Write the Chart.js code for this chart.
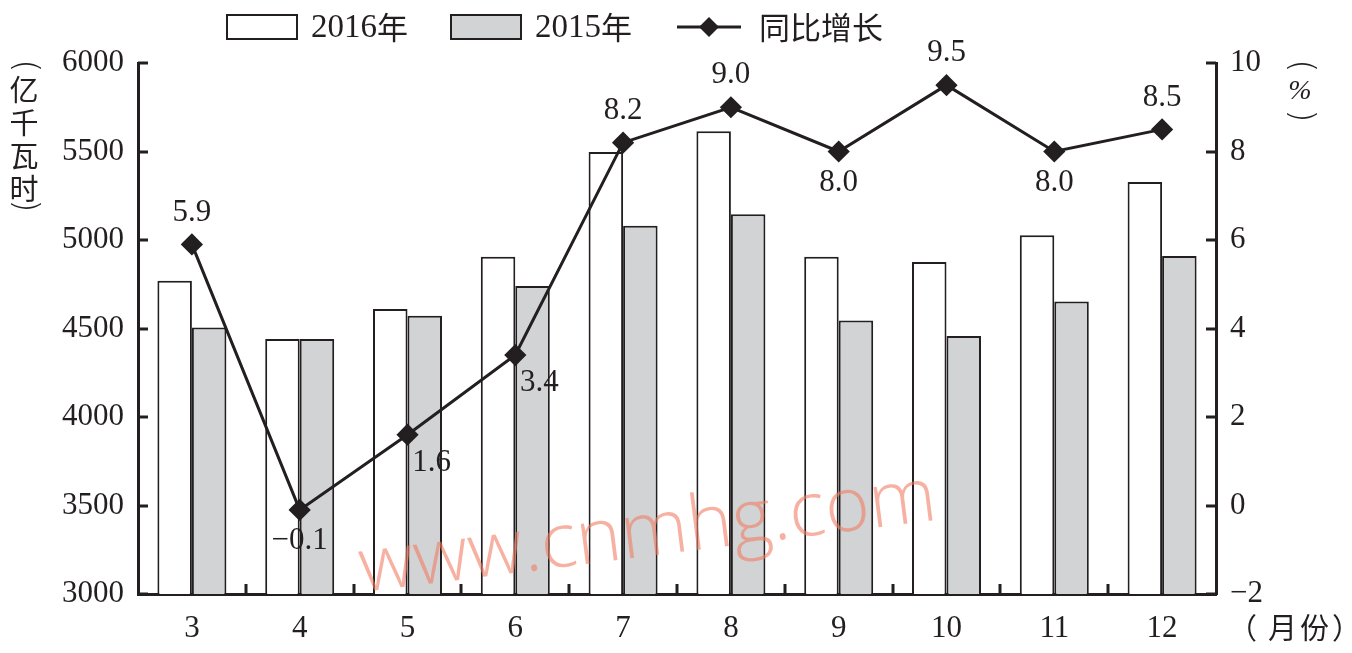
<!DOCTYPE html>
<html>
<head>
<meta charset="utf-8">
<script src="https://cdn.jsdelivr.net/npm/chart.js@4.4.1/dist/chart.umd.min.js"></script>
<style>
  html, body { margin: 0; padding: 0; background: #fff; }
  #wrap { width: 1352px; height: 653px; }
</style>
</head>
<body>
<div id="wrap"><canvas id="chart" width="1352" height="653"></canvas></div>
<script>
const months = ['3', '4', '5', '6', '7', '8', '9', '10', '11', '12']
const power2016 = [4770, 4440, 4610, 4905, 5497, 5615, 4905, 4876, 5027, 5328]
const power2015 = [4505, 4440, 4572, 4740, 5080, 5145, 4545, 4458, 4652, 4910]
const growth = [5.9, -0.1, 1.6, 3.4, 8.2, 9.0, 8.0, 9.5, 8.0, 8.5]
const growthLabels = ['5.9', '−0.1', '1.6', '3.4', '8.2', '9.0', '8.0', '9.5', '8.0', '8.5']
const labelPlace = ['above', 'below', 'belowRight', 'belowRight', 'above', 'above', 'below', 'above', 'below', 'above']

const INK = '#231f20'
const GRAY = '#d1d3d4'
const SERIF = '"Liberation Serif", "Times New Roman", serif'
const NUM_SIZE = 31
const CJK = '"Noto Sans CJK SC", sans-serif'

const formatPercentTick = (v) => (v < 0 ? '−' + Math.abs(v) : String(v))

// ticks point inward, drawn by hand
const inwardTicks = {
  id: 'inwardTicks',
  afterDraw(chart) {
    const { ctx, chartArea: a, scales } = chart
    const len = 10
    ctx.save()
    ctx.strokeStyle = INK
    ctx.lineWidth = 3
    ctx.beginPath()
    for (const t of scales.y.ticks) {
      const py = Math.round(scales.y.getPixelForValue(t.value))
      ctx.moveTo(a.left, py)
      ctx.lineTo(a.left + len, py)
    }
    for (const t of scales.y1.ticks) {
      const py = Math.round(scales.y1.getPixelForValue(t.value))
      ctx.moveTo(a.right, py)
      ctx.lineTo(a.right - len, py)
    }
    for (let i = 1; i < months.length; i++) {
      const px = Math.round((scales.x.getPixelForValue(i - 1) + scales.x.getPixelForValue(i)) / 2)
      ctx.moveTo(px, a.bottom)
      ctx.lineTo(px, a.bottom - len)
    }
    ctx.stroke()
    ctx.restore()
  },
}

const growthValueLabels = {
  id: 'growthValueLabels',
  afterDatasetsDraw(chart) {
    const { ctx } = chart
    const meta = chart.getDatasetMeta(2)
    ctx.save()
    ctx.font = `${NUM_SIZE}px ${SERIF}`
    ctx.fillStyle = INK
    ctx.textAlign = 'center'
    ctx.textBaseline = 'middle'
    meta.data.forEach((pt, i) => {
      let dx = 0
      let dy = -32
      if (labelPlace[i] === 'below') dy = 31
      if (labelPlace[i] === 'belowRight') { dx = 24; dy = 28 }
      ctx.fillText(growthLabels[i], pt.x + dx, pt.y + dy)
    })
    ctx.restore()
  },
}

// vertical paren: a latin paren turned a quarter
function drawTurned(ctx, ch, x, y) {
  ctx.save()
  ctx.translate(x, y)
  ctx.rotate(Math.PI / 2)
  ctx.font = `300 34px "DejaVu Sans", sans-serif`
  ctx.textAlign = 'center'
  ctx.textBaseline = 'middle'
  ctx.fillText(ch, 0, 0)
  ctx.restore()
}

const extras = {
  id: 'extras',
  afterDraw(chart) {
    const { ctx } = chart
    ctx.save()
    ctx.fillStyle = INK

    // legend
    let x = 227
    const y = 27
    const items = chart.data.datasets.map((d) => d.label)
    items.forEach((label, i) => {
      if (i < 2) {
        ctx.fillStyle = i === 0 ? '#fff' : GRAY
        ctx.fillRect(x, y - 12, 70, 24)
        ctx.strokeStyle = INK
        ctx.lineWidth = 2
        ctx.strokeRect(x, y - 12, 70, 24)
      } else {
        ctx.strokeStyle = INK
        ctx.lineWidth = 3
        ctx.beginPath()
        ctx.moveTo(x + 2, y)
        ctx.lineTo(x + 66, y)
        ctx.stroke()
        ctx.fillStyle = INK
        ctx.beginPath()
        ctx.moveTo(x + 34, y - 10)
        ctx.lineTo(x + 44, y)
        ctx.lineTo(x + 34, y + 10)
        ctx.lineTo(x + 24, y)
        ctx.closePath()
        ctx.fill()
      }
      x += 84
      ctx.fillStyle = INK
      ctx.textBaseline = 'middle'
      ctx.textAlign = 'left'
      const parts = label.match(/^([0-9]*)(.*)$/)
      ctx.font = `33px ${SERIF}`
      ctx.fillText(parts[1], x, y + 1)
      const w1 = ctx.measureText(parts[1]).width
      ctx.font = `31px ${CJK}`
      ctx.fillText(parts[2], x + w1, y)
      x += w1 + ctx.measureText(parts[2]).width + 43
    })

    // vertical axis titles
    ctx.font = `29px ${CJK}`
    ctx.textAlign = 'center'
    ctx.textBaseline = 'middle'
    drawTurned(ctx, '(', 24, 66)
    ;['亿', '千', '瓦', '时'].forEach((c, i) => ctx.fillText(c, 24, 90 + i * 33))
    drawTurned(ctx, ')', 24, 206)
    drawTurned(ctx, '(', 1300, 66)
    ctx.font = `italic 28px ${SERIF}`
    ctx.fillText('%', 1300, 92)
    drawTurned(ctx, ')', 1300, 116)

    // x unit
    ctx.font = `29px ${CJK}`
    ctx.textAlign = 'left'
    ctx.fillText('（', 1228, 628)
    ctx.fillText('月', 1268, 628)
    ctx.fillText('份', 1300, 628)
    ctx.fillText('）', 1332, 628)

    // watermark
    ctx.translate(362, 592)
    ctx.rotate(-0.125)
    ctx.font = `300 76px "Open Sans", sans-serif`
    ctx.fillStyle = 'rgba(240, 125, 100, 0.6)'
    ctx.textAlign = 'left'
    ctx.textBaseline = 'alphabetic'
    ctx.fillText('www.cnmhg.com', 0, 0)
    ctx.restore()
  },
}

const tickFont = { family: SERIF, size: NUM_SIZE }

new Chart(document.getElementById('chart'), {
  data: {
    labels: months,
    datasets: [
      {
        type: 'bar',
        label: '2016年',
        data: power2016,
        backgroundColor: '#fff',
        borderColor: INK,
        borderWidth: 2,
        yAxisID: 'y',
        order: 1,
      },
      {
        type: 'bar',
        label: '2015年',
        data: power2015,
        backgroundColor: GRAY,
        borderColor: INK,
        borderWidth: 2,
        yAxisID: 'y',
        order: 1,
      },
      {
        type: 'line',
        label: '同比增长',
        data: growth,
        borderColor: INK,
        borderWidth: 3,
        pointStyle: 'rectRot',
        pointRadius: 9,
        pointBackgroundColor: INK,
        pointBorderColor: INK,
        tension: 0,
        yAxisID: 'y1',
        order: 0,
      },
    ],
  },
  options: {
    responsive: false,
    animation: false,
    datasets: { bar: { categoryPercentage: 0.64, barPercentage: 1 } },
    layout: { padding: { top: 63, left: 0, right: 0, bottom: 0 } },
    plugins: { legend: { display: false }, tooltip: { enabled: false } },
    scales: {
      x: {
        grid: { drawOnChartArea: false, drawTicks: false },
        border: { color: INK, width: 3 },
        ticks: { color: INK, font: tickFont, padding: 16 },
        afterFit: (s) => { s.height = 59 },
      },
      y: {
        position: 'left',
        min: 3000,
        max: 6000,
        grid: { drawOnChartArea: false, drawTicks: false },
        border: { color: INK, width: 3 },
        ticks: { stepSize: 500, color: INK, font: tickFont, padding: 14, callback: (v) => String(v) },
        afterFit: (s) => { s.width = 138 },
      },
      y1: {
        position: 'right',
        min: -2,
        max: 10,
        grid: { drawOnChartArea: false, drawTicks: false },
        border: { color: INK, width: 3 },
        ticks: { stepSize: 2, color: INK, font: tickFont, padding: 14, callback: formatPercentTick },
        afterFit: (s) => { s.width = 136 },
      },
    },
  },
  plugins: [inwardTicks, growthValueLabels, extras],
})
</script>
</body>
</html>
